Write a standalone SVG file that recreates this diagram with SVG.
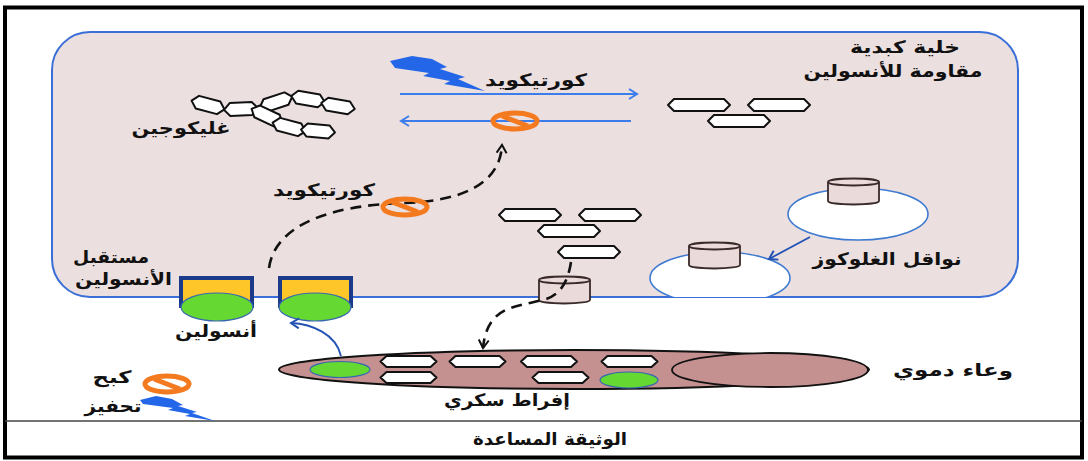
<svg xmlns="http://www.w3.org/2000/svg" width="1088" height="461" viewBox="0 0 1088 461">
  <defs>
    <style>
      .lbl{font-family:"DejaVu Sans",sans-serif;font-weight:bold;font-size:17px;fill:#111;text-anchor:middle}
      .hex{fill:#fff;stroke:#111;stroke-width:2;stroke-linejoin:round}
      .blueArrow{stroke:#3C7DEB;stroke-width:2;fill:none}
      .navyArrow{stroke:#2152B4;stroke-width:1.8;fill:none}
      .dash{stroke:#111;stroke-width:2.6;fill:none;stroke-dasharray:11 7}
      .cyl{fill:#EBDADA;stroke:#3a2a2a;stroke-width:1.8}
      .green{fill:#66D832;stroke:#3767B0;stroke-width:1.2}
      .ring{fill:none;stroke:#F47A20;stroke-width:5}
      .bar{stroke:#F47A20;stroke-width:5}
      .bolt{fill:#2366E8}
      .vesicle{fill:#fff;stroke:#3F7BD0;stroke-width:1.6}
      .receptor{fill:#FFC629;stroke:#1B3A8A;stroke-width:4}
    </style>
    <polygon id="hexL" points="-31,0 -25,-6 25,-6 31,0 25,6 -25,6"/>
    <polygon id="hexV" points="-28,0 -22,-5.5 22,-5.5 28,0 22,5.5 -22,5.5"/>
    <polygon id="hexS" points="-17,0 -11,-6.5 11,-6.5 17,0 11,6.5 -11,6.5"/>
    <g id="stopSign">
      <ellipse class="ring" cx="0" cy="0" rx="22" ry="8"/>
      <line class="bar" x1="-13" y1="-5" x2="13" y2="5"/>
    </g>
    <marker id="mBlue" viewBox="0 0 12 12" refX="10" refY="6" markerWidth="12" markerHeight="12" markerUnits="userSpaceOnUse" orient="auto">
      <path d="M2,1 L10,6 L2,11" fill="none" stroke="#3C7DEB" stroke-width="2"/>
    </marker>
    <marker id="mNavy" viewBox="0 0 12 12" refX="10" refY="6" markerWidth="12" markerHeight="12" markerUnits="userSpaceOnUse" orient="auto">
      <path d="M2,1 L10,6 L2,11" fill="none" stroke="#2152B4" stroke-width="2"/>
    </marker>
    <marker id="mBlack" viewBox="0 0 12 12" refX="10" refY="6" markerWidth="12" markerHeight="12" markerUnits="userSpaceOnUse" orient="auto">
      <path d="M2,1 L10,6 L2,11" fill="none" stroke="#111" stroke-width="2"/>
    </marker>
    <clipPath id="cellClip">
      <rect x="52" y="32" width="966" height="265" rx="38"/>
    </clipPath>
  </defs>

  <!-- page frame -->
  <rect x="0" y="0" width="1088" height="461" fill="#fff"/>
  <rect x="5" y="7.5" width="1077" height="450" fill="none" stroke="#000" stroke-width="4"/>
  <line x1="5" y1="421" x2="1082" y2="421" stroke="#444" stroke-width="1.5"/>

  <!-- liver cell -->
  <g id="cell">
    <rect x="52" y="32" width="966" height="265" rx="38" fill="#ECDFDF" stroke="#3A6FD8" stroke-width="2"/>
    <text class="lbl" x="905" y="53" textLength="110" lengthAdjust="spacingAndGlyphs">خلية كبدية</text>
    <text class="lbl" x="893" y="77" textLength="179" lengthAdjust="spacingAndGlyphs">مقاومة للأنسولين</text>
  </g>

  <!-- glycogen chain -->
  <g id="glycogen">
    <use href="#hexS" class="hex" transform="translate(208,105) rotate(15)"/>
    <use href="#hexS" class="hex" transform="translate(241,109) rotate(-3)"/>
    <use href="#hexS" class="hex" transform="translate(276,102) rotate(-18)"/>
    <use href="#hexS" class="hex" transform="translate(308,99) rotate(10)"/>
    <use href="#hexS" class="hex" transform="translate(338,106) rotate(10)"/>
    <use href="#hexS" class="hex" transform="translate(267,116) rotate(25)"/>
    <use href="#hexS" class="hex" transform="translate(289,127) rotate(15)"/>
    <use href="#hexS" class="hex" transform="translate(318,131) rotate(5)"/>
    <text class="lbl" x="181" y="134" textLength="99" lengthAdjust="spacingAndGlyphs">غليكوجين</text>
  </g>

  <!-- glucose units after breakdown -->
  <g id="glucoseTop">
    <use href="#hexL" class="hex" x="699" y="105"/>
    <use href="#hexL" class="hex" x="779" y="105"/>
    <use href="#hexL" class="hex" x="739" y="121"/>
  </g>

  <!-- glucose units above the membrane transporter -->
  <g id="glucoseMid">
    <use href="#hexL" class="hex" x="530" y="215"/>
    <use href="#hexL" class="hex" x="610" y="215"/>
    <use href="#hexL" class="hex" x="569" y="231"/>
    <use href="#hexL" class="hex" x="589" y="252"/>
  </g>

  <!-- glucose transporter vesicles -->
  <g id="transporters">
    <g clip-path="url(#cellClip)">
      <ellipse class="vesicle" cx="720" cy="278" rx="70" ry="26"/>
    </g>
    <ellipse class="vesicle" cx="858" cy="214" rx="70" ry="26"/>
    <g>
      <path class="cyl" d="M828,182 L828,201 A25.5,3.5 0 0 0 879,201 L879,182"/>
      <ellipse class="cyl" cx="853.5" cy="182" rx="25.5" ry="3.5"/>
    </g>
    <g>
      <path class="cyl" d="M689,246 L689,265 A25.5,3.5 0 0 0 740,265 L740,246"/>
      <ellipse class="cyl" cx="714.5" cy="246" rx="25.5" ry="3.5"/>
    </g>
    <text class="lbl" x="887" y="265" textLength="149" lengthAdjust="spacingAndGlyphs">نواقل الغلوكوز</text>
  </g>

  <!-- transporter in the membrane -->
  <g id="membraneTransporter">
    <path class="cyl" d="M539,280 L539,300 A25.5,3.5 0 0 0 590,300 L590,280"/>
    <ellipse class="cyl" cx="564.5" cy="280" rx="25.5" ry="3.5"/>
  </g>

  <!-- insulin receptors -->
  <g id="receptor1">
    <path class="receptor" d="M181,308 L181,278 L252,278 L252,308"/>
    <ellipse class="green" cx="217" cy="307" rx="36" ry="14"/>
  </g>
  <g id="receptor2">
    <path class="receptor" d="M280,308 L280,278 L351,278 L351,308"/>
    <ellipse class="green" cx="315" cy="307" rx="36" ry="14"/>
  </g>
  <g id="receptorLabels">
    <text class="lbl" x="111" y="263" textLength="76" lengthAdjust="spacingAndGlyphs">مستقبل</text>
    <text class="lbl" x="123.5" y="285" textLength="97" lengthAdjust="spacingAndGlyphs">الأنسولين</text>
    <text class="lbl" x="216" y="337" textLength="82" lengthAdjust="spacingAndGlyphs">أنسولين</text>
  </g>

  <!-- blood vessel -->
  <g id="vessel">
    <ellipse cx="574" cy="369.5" rx="295" ry="19.5" fill="#C49090" stroke="#111" stroke-width="2"/>
    <ellipse cx="770" cy="370" rx="98" ry="17" fill="#C49090" stroke="#111" stroke-width="1.8"/>
    <ellipse class="green" cx="340" cy="369.5" rx="30" ry="8"/>
    <ellipse class="green" cx="629" cy="380" rx="29" ry="8"/>
    <use href="#hexV" class="hex" x="408.5" y="361.5"/>
    <use href="#hexV" class="hex" x="477.5" y="361.5"/>
    <use href="#hexV" class="hex" x="549" y="361.5"/>
    <use href="#hexV" class="hex" x="629.5" y="361.5"/>
    <use href="#hexV" class="hex" x="408.5" y="377.5"/>
    <use href="#hexV" class="hex" x="560.5" y="377.5"/>
    <text class="lbl" x="507" y="406" textLength="126" lengthAdjust="spacingAndGlyphs">إفراط سكري</text>
    <text class="lbl" x="953" y="376" textLength="120" lengthAdjust="spacingAndGlyphs">وعاء دموي</text>
  </g>

  <!-- connectors -->
  <g id="connectors">
    <line class="blueArrow" x1="400" y1="94" x2="637" y2="94" marker-end="url(#mBlue)"/>
    <line class="blueArrow" x1="631" y1="121" x2="401" y2="121" marker-end="url(#mBlue)"/>
    <path class="dash" d="M269,268 C275,225 330,205 405,203 C460,201 500,185 502,145" marker-end="url(#mBlack)"/>
    <path class="dash" d="M571,262 C568,282 560,296 543,300 C515,307 487,306 483,348" marker-end="url(#mBlack)"/>
    <path class="navyArrow" d="M341,356 C336,334 312,324 291,323" marker-end="url(#mNavy)"/>
    <line class="navyArrow" x1="810" y1="237" x2="769" y2="259" marker-end="url(#mNavy)"/>
  </g>

  <!-- inhibition / stimulation marks -->
  <g id="corticoidTop">
    <polygon class="bolt" points="390,61 412,56 432,59 447,67 440,69 465,77 458,79 485,91 444,84 450,81 423,76 429,73 395,68"/>
    <text class="lbl" x="536" y="86" textLength="102" lengthAdjust="spacingAndGlyphs">كورتيكويد</text>
    <use href="#stopSign" x="515" y="121"/>
  </g>
  <g id="corticoidMid">
    <text class="lbl" x="324" y="196" textLength="102" lengthAdjust="spacingAndGlyphs">كورتيكويد</text>
    <use href="#stopSign" x="405" y="207"/>
  </g>

  <!-- legend -->
  <g id="legend">
    <use href="#stopSign" x="167" y="384"/>
    <text class="lbl" x="112" y="383" textLength="39" lengthAdjust="spacingAndGlyphs">كبح</text>
    <polygon class="bolt" points="140,400 156,396 172,399 183,405 178,406 197,412 192,413 215,421 185,416 190,414 168,410 173,408 143,404"/>
    <text class="lbl" x="113" y="412" textLength="57" lengthAdjust="spacingAndGlyphs">تحفيز</text>
  </g>

  <text class="lbl" x="550" y="445" textLength="154" lengthAdjust="spacingAndGlyphs">الوثيقة المساعدة</text>
</svg>
